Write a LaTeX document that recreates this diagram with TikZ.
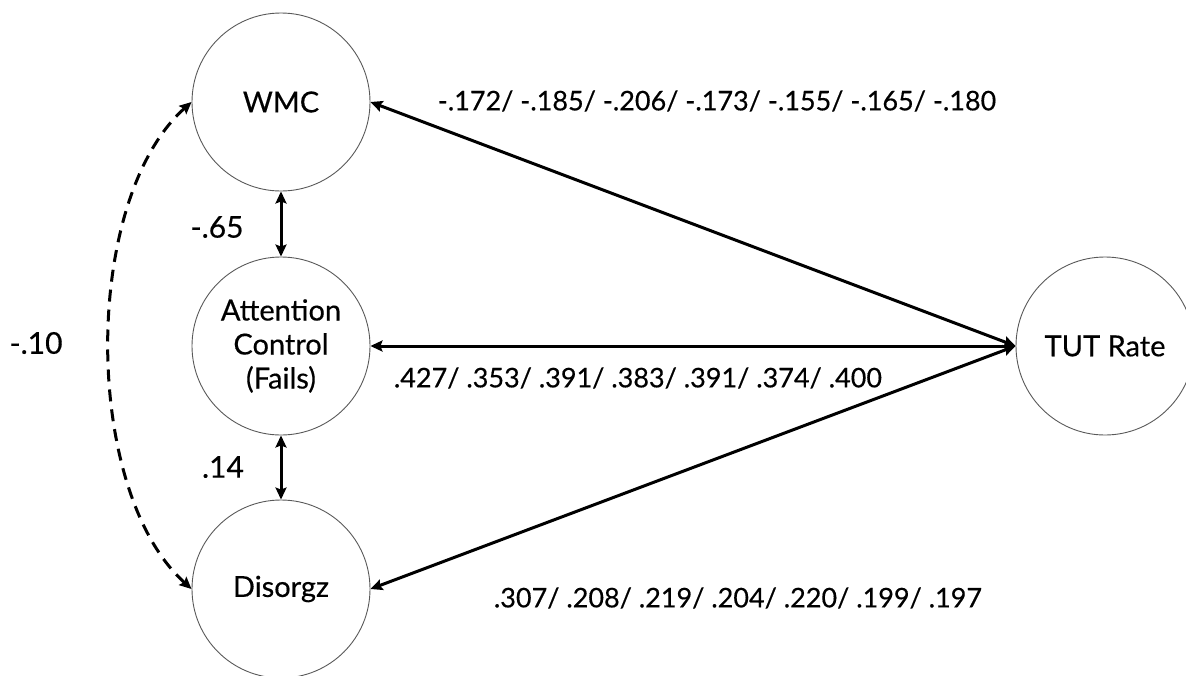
\documentclass[tikz,border=0pt]{standalone}
\usepackage{fontspec}
\setmainfont{Lato}[FakeBold=0.4]
\usetikzlibrary{arrows.meta}
\tikzset{
  latent/.style={circle, draw=black!65, line width=0.9pt, minimum size=178pt, inner sep=0pt, align=center, font=\fontsize{29}{34}\selectfont},
  path2/.style={line width=3pt, {Stealth[length=12pt,width=11pt,inset=2pt]}-{Stealth[length=12pt,width=11pt,inset=2pt]}},
  cov/.style={line width=3pt, dash pattern=on 12pt off 8pt, {Stealth[length=12pt,width=11pt,inset=2pt]}-{Stealth[length=12pt,width=11pt,inset=2pt]}},
  lab/.style={font=\fontsize{27}{30}\selectfont, inner sep=0pt},
  biglab/.style={font=\fontsize{30}{32}\selectfont, inner sep=0pt}
}
\begin{document}
\begin{tikzpicture}[x=1pt,y=-1pt]
\useasboundingbox (0,0) rectangle (1186,675);
\node[latent] (wmc) at (281,102) {WMC};
\node[latent] (att) at (281,346) {Attention\\Control\\(Fails)};
\node[latent] (dis) at (281,589) {Disorgz};
\node[latent] (tut) at (1105,346) {TUT Rate};
\draw[path2] (wmc.south) -- (att.north);
\draw[path2] (att.south) -- (dis.north);
\draw[path2] (wmc.east) -- (tut.west);
\draw[path2] (att.east) -- (tut.west);
\draw[path2] (dis.east) -- (tut.west);
\draw[cov] (wmc.west) .. controls (82,200) and (82,490) .. (dis.west);
\node[lab] (l1) at (717,101) {-.172/ -.185/ -.206/ -.173/ -.155/ -.165/ -.180};
\node[lab] (l2) at (638,378) {.427/ .353/ .391/ .383/ .391/ .374/ .400};
\node[lab] (l3) at (738,598) {.307/ .208/ .219/ .204/ .220/ .199/ .197};
\node[biglab] (l4) at (217,227) {-.65};
\node[biglab] (l5) at (223,467) {.14};
\node[biglab] (l6) at (36,343) {-.10};
\end{tikzpicture}
\end{document}
